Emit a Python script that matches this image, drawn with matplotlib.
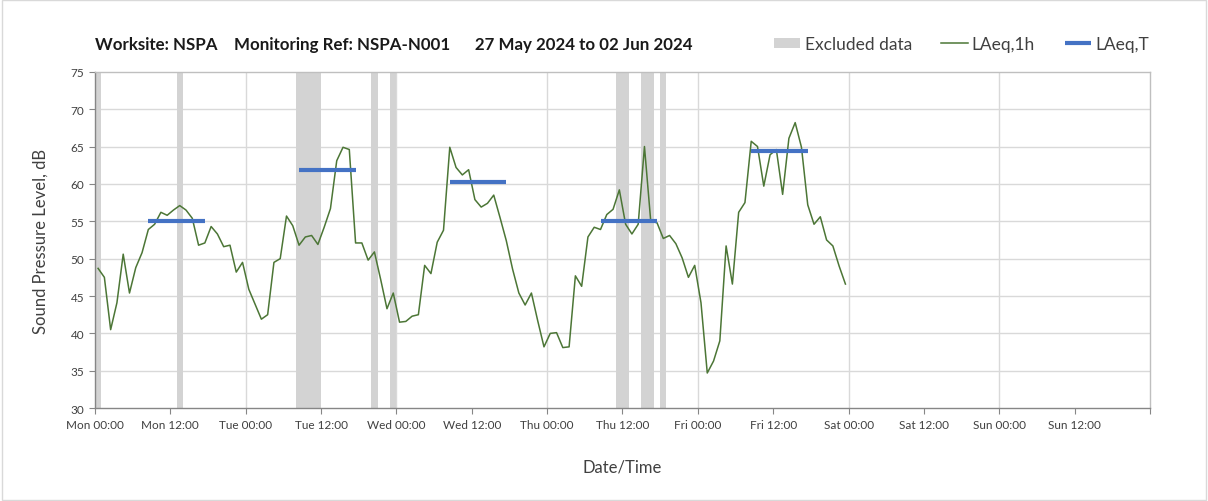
#! python3
# noise_monitoring_chart.py - hourly sound level chart for one monitoring week

import numpy as np
import matplotlib
matplotlib.use('Agg')
import matplotlib.pyplot as plt
from matplotlib.patches import Rectangle

plt.rcParams['font.family'] = ['Lato', 'DejaVu Sans']

# LAeq,1h readings, one per hour starting Mon 00:00
LAEQ_1H = [48.7, 47.5, 40.5, 44.1, 50.6, 45.4, 48.8, 50.8, 53.9, 54.6,
           56.2, 55.8, 56.5, 57.1, 56.5, 55.4, 51.8, 52.1, 54.3, 53.3,
           51.6, 51.8, 48.2, 49.5, 45.9, 43.9, 41.9, 42.5, 49.5, 50.0,
           55.7, 54.4, 51.8, 52.9, 53.1, 51.9, 54.2, 56.7, 63.1, 64.9,
           64.6, 52.1, 52.1, 49.8, 50.9, 47.2, 43.3, 45.4, 41.5, 41.6,
           42.3, 42.5, 49.1, 48.0, 52.2, 53.8, 64.9, 62.2, 61.2, 61.9,
           57.9, 56.9, 57.4, 58.5, 55.5, 52.4, 48.6, 45.4, 43.8, 45.4,
           41.7, 38.2, 40.0, 40.1, 38.1, 38.2, 47.7, 46.3, 52.9, 54.2,
           53.9, 55.9, 56.6, 59.2, 54.6, 53.3, 54.6, 65.0, 55.0, 54.8,
           52.7, 53.1, 52.0, 50.1, 47.5, 49.1, 44.1, 34.7, 36.3, 39.0,
           51.7, 46.6, 56.2, 57.5, 65.7, 65.0, 59.7, 63.9, 64.6, 58.6,
           66.1, 68.2, 64.9, 57.2, 54.6, 55.6, 52.5, 51.7, 49.0, 46.6]

# daytime LAeq,T per weekday, drawn across the 08:00-18:00 hourly slots
LAEQ_T = [55.0, 61.9, 60.3, 55.0, 64.4]
DAY_START_HOUR = 8
DAY_END_HOUR = 17

# excluded periods, hours from Mon 00:00
EXCL_START = [0, 13, 32, 44, 47, 83, 87, 90]
EXCL_END = [1, 14, 36, 45, 48, 85, 89, 91]

DAYS = ['Mon', 'Tue', 'Wed', 'Thu', 'Fri', 'Sat', 'Sun']


def main():
    fig = plt.figure(figsize=(12.08, 5.02), dpi=100)
    ax = fig.add_axes([0.0786, 0.185, 0.8734, 0.67])

    # excluded data bars
    for i, (s, e) in enumerate(zip(EXCL_START, EXCL_END)):
        ax.axvspan(s, e, color='#d3d3d3', lw=0, zorder=1,
                   label='Excluded data' if i == 0 else None)

    hours = np.arange(len(LAEQ_1H)) + 0.5
    ax.plot(hours, LAEQ_1H, color='#4c7636', lw=1.1, zorder=3, label='LAeq,1h')

    for d, val in enumerate(LAEQ_T):
        x0 = d * 24 + DAY_START_HOUR + 0.5
        x1 = d * 24 + DAY_END_HOUR + 0.5
        ax.plot([x0, x1], [val, val], color='#4472c4', lw=3, zorder=4,
                solid_capstyle='butt', label='LAeq,T' if d == 0 else None)

    ax.set_xlim(0, 168)
    ax.set_ylim(30, 75)
    ax.set_yticks(range(30, 80, 5))
    ticks = list(range(0, 169, 12))
    labels = [f'{DAYS[t // 24]} {t % 24:02d}:00' for t in ticks[:-1]] + ['']
    ax.set_xticks(ticks)
    ax.set_xticklabels(labels)

    # grid: every 5 dB, and at midnight only
    for y in range(35, 75, 5):
        ax.axhline(y, color='#d9d9d9', lw=1, zorder=0)
    for x in range(24, 168, 24):
        ax.axvline(x, color='#d9d9d9', lw=1, zorder=0)

    for sp in ax.spines.values():
        sp.set_color('#bfbfbf')
        sp.set_linewidth(1)
    ax.spines['left'].set_color('#868686')
    ax.spines['bottom'].set_color('#868686')
    ax.tick_params(axis='both', colors='#868686', labelcolor='#404040',
                   labelsize=8.5, length=4)
    ax.tick_params(axis='x', pad=4)

    ax.set_ylabel('Sound Pressure Level, dB', fontsize=12, color='#404040', labelpad=16)
    ax.set_xlabel('Date/Time', fontsize=12, color='#404040', labelpad=20)

    fig.text(0.0786, 0.91, 'Worksite: NSPA    Monitoring Ref: NSPA-N001      27 May 2024 to 02 Jun 2024',
             fontsize=12.2, fontweight='bold', color='#1a1a1a', va='center')

    fig.legend(loc='center left', bbox_to_anchor=(0.641, 0.91), ncol=3, frameon=False,
               fontsize=12.5, handlelength=1.5, handleheight=0.55, handletextpad=0.25,
               columnspacing=1.7, borderpad=0, borderaxespad=0, labelcolor='#404040')

    fig.add_artist(Rectangle((0.002, 0.002), 0.996, 0.996, transform=fig.transFigure,
                             fill=False, edgecolor='#d9d9d9', lw=1))

    fig.savefig('out.png', dpi=100)


if __name__ == '__main__':
    main()
